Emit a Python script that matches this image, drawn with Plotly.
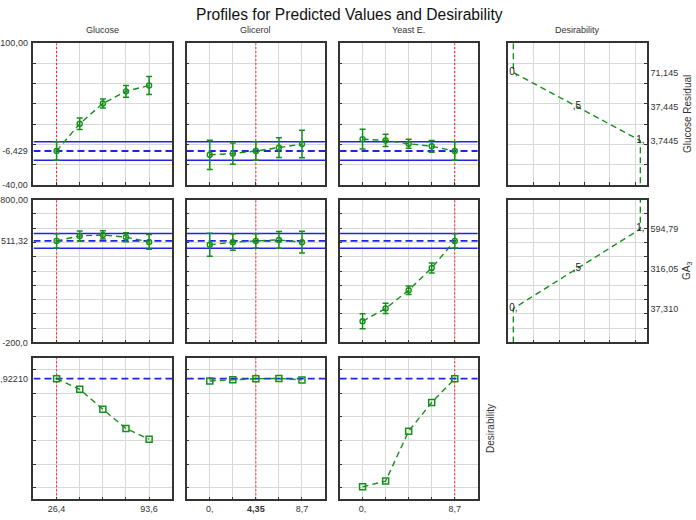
import plotly.graph_objects as go

# ---------------- data ----------------
factors = ["Glucose", "Glicerol", "Yeast E."]
glucose_levels = [26.4, 43.2, 60.0, 76.8, 93.6]
glicerol_levels = [0.0, 2.175, 4.35, 6.525, 8.7]
yeast_levels = [0.0, 2.175, 4.35, 6.525, 8.7]
current_levels = [26.4, 4.35, 8.7]

glucose_tickvals = [26.4, 93.6]
glucose_ticktext = ["26,4", "93,6"]
glicerol_tickvals = [0.0, 4.35, 8.7]
glicerol_ticktext = ["0,", "<b>4,35</b>", "8,7"]
yeast_tickvals = [0.0, 8.7]
yeast_ticktext = ["0,", "8,7"]

# response 1: Glucose Residual
resid_glucose = [-6.429, 20.5, 40.5, 52.5, 58.3]
resid_glucose_err = [9.2, 5.7, 4.5, 5.8, 8.9]
resid_glicerol = [-10.2, -9.0, -6.429, -3.1, 0.4]
resid_glicerol_err = [14.5, 10.5, 9.2, 9.7, 13.6]
resid_yeast = [5.3, 4.0, 0.7, -1.8, -6.429]
resid_yeast_err = [9.7, 6.1, 4.4, 5.8, 9.2]
resid_pred = -6.429
resid_ci = [-15.63, 2.77]
resid_range = [-40, 100]
resid_grid = [-20, 0, 20, 40, 60, 80]
resid_left_vals = [100, -6.429, -40]
resid_left_text = ["100,00", "-6,429", "-40,00"]
resid_des_x = [0, 0, 0.5, 1, 1]
resid_des_y = [100, 71.145, 37.445, 3.7445, -40]
resid_right_vals = [71.145, 37.445, 3.7445]
resid_right_text = ["71,145", "37,445", "3,7445"]

# response 2: GA3
ga3_glucose = [511.32, 546, 553, 537, 504]
ga3_glucose_err = [50, 35, 29, 32, 52]
ga3_glicerol = [484, 502, 511.32, 518, 502]
ga3_glicerol_err = [81, 57, 50, 59, 76]
ga3_yeast = [-52, 38, 165, 322, 511.32]
ga3_yeast_err = [53, 36, 30, 35, 50]
ga3_pred = 511.32
ga3_ci = [460.3, 562.3]
ga3_range = [-200, 800]
ga3_grid = [-100, 0, 100, 200, 300, 400, 500, 600, 700]
ga3_left_vals = [800, 511.32, -200]
ga3_left_text = ["800,00", "511,32", "-200,0"]
ga3_des_x = [0, 0, 0.5, 1, 1]
ga3_des_y = [-200, 37.31, 316.05, 594.79, 800]
ga3_right_vals = [594.79, 316.05, 37.31]
ga3_right_text = ["594,79", "316,05", "37,310"]

# overall desirability
des_glucose = [0.9221, 0.832, 0.664, 0.501, 0.411]
des_glicerol = [0.903, 0.914, 0.9221, 0.924, 0.912]
des_yeast = [0.009, 0.058, 0.479, 0.722, 0.9221]
des_pred = 0.9221
des_range = [-0.096, 1.096]
des_grid = [0, 0.2, 0.4, 0.6, 0.8, 1.0]
des_left_vals = [0.9221]
des_left_text = [",92210"]

des_marks = ["0,", ",5", "1,"]
dcol_range = [-0.04, 1.053]
dcol_grid = [0.16, 0.36, 0.56, 0.76, 0.96]

# ---------------- layout geometry ----------------
W, H = 696, 520
col_px = [(32.5, 171.5), (186, 324.5), (339, 477.5), (508, 647)]
row_px = [(39, 183.5), (198.5, 344), (360, 504)]

GREEN = "#14901a"
BLUE = "#2323e6"
RED = "#ff2020"
FRAME = "#333333"
GRID = "#d8d8d8"
FONT = "Liberation Sans, Arial, sans-serif"

levels = [glucose_levels, glicerol_levels, yeast_levels]
xtickvals = [glucose_tickvals, glicerol_tickvals, yeast_tickvals]
xticktexts = [glucose_ticktext, glicerol_ticktext, yeast_ticktext]
rows_data = [
    dict(vals=[resid_glucose, resid_glicerol, resid_yeast],
         err=[resid_glucose_err, resid_glicerol_err, resid_yeast_err],
         pred=resid_pred, ci=resid_ci, rng=resid_range, grid=resid_grid,
         lv=resid_left_vals, lt=resid_left_text,
         dx=resid_des_x, dy=resid_des_y, rv=resid_right_vals, rt=resid_right_text),
    dict(vals=[ga3_glucose, ga3_glicerol, ga3_yeast],
         err=[ga3_glucose_err, ga3_glicerol_err, ga3_yeast_err],
         pred=ga3_pred, ci=ga3_ci, rng=ga3_range, grid=ga3_grid,
         lv=ga3_left_vals, lt=ga3_left_text,
         dx=ga3_des_x, dy=ga3_des_y, rv=ga3_right_vals, rt=ga3_right_text),
    dict(vals=[des_glucose, des_glicerol, des_yeast], err=None,
         pred=des_pred, ci=None, rng=des_range, grid=des_grid,
         lv=des_left_vals, lt=des_left_text),
]

fig = go.Figure()
layout = {}


def names(idx):
    s = "" if idx == 1 else str(idx)
    return "xaxis" + s, "yaxis" + s, "x" + s, "y" + s


def base_axis():
    return dict(showline=True, mirror=True, linecolor=FRAME, linewidth=1.5,
                zeroline=False, fixedrange=True,
                tickfont=dict(family=FONT, size=9, color="#333333"))


def grid_minor(vals):
    return dict(tickmode="array", tickvals=vals, showgrid=True, gridcolor=GRID,
                gridwidth=1, ticks="inside", ticklen=3, tickcolor=FRAME)


for r in range(3):
    rd = rows_data[r]
    y0p, y1p = row_px[r]
    ydom = [1 - y1p / H, 1 - y0p / H]
    for c in range(4):
        if r == 2 and c == 3:
            continue
        idx = r * 4 + c + 1
        xa, ya, xr, yr = names(idx)
        x0p, x1p = col_px[c]
        xdom = [x0p / W, x1p / W]

        # x axis
        xax = base_axis()
        if c < 3:
            lv = levels[c]
            step = lv[1] - lv[0]
            xrng = [lv[0] - step, lv[-1] + step]
            if r == 2:
                xax.update(tickmode="array", tickvals=xtickvals[c], ticktext=xticktexts[c],
                           showgrid=True, gridcolor=GRID, gridwidth=1,
                           ticks="inside", ticklen=3, tickcolor=FRAME)
            else:
                xax.update(tickmode="array", tickvals=[], showticklabels=False,
                           showgrid=False, ticks="")
            xax.update(range=xrng, minor=grid_minor(lv))
        else:
            xrng = dcol_range
            xax.update(range=xrng, tickmode="array", tickvals=[], showticklabels=False,
                       showgrid=False, ticks="", minor=grid_minor(dcol_grid))
        xax.update(domain=xdom, anchor=yr)
        layout[xa] = xax

        # y axis
        yax = base_axis()
        yax.update(range=rd["rng"], domain=ydom, anchor=xr, minor=grid_minor(rd["grid"]))
        if c == 0:
            yax.update(tickmode="array", tickvals=rd["lv"], ticktext=rd["lt"],
                       showgrid=False, ticks="", ticklabelstandoff=2)
        elif c == 3:
            yax.update(side="right", tickmode="array", tickvals=rd["rv"],
                       ticktext=rd["rt"], showgrid=False, ticks="")
        else:
            yax.update(tickmode="array", tickvals=[], showticklabels=False,
                       showgrid=False, ticks="")
        layout[ya] = yax

        if c < 3:
            # red dotted current level
            cur = current_levels[c]
            fig.add_trace(go.Scatter(x=[cur, cur], y=rd["rng"], mode="lines",
                                     line=dict(color=RED, width=1, dash="2px,2px"),
                                     xaxis=xr, yaxis=yr, hoverinfo="skip"))
            # blue reference lines
            if rd["ci"] is not None:
                for v in rd["ci"]:
                    fig.add_trace(go.Scatter(x=xrng, y=[v, v], mode="lines",
                                             line=dict(color=BLUE, width=1.5),
                                             xaxis=xr, yaxis=yr, hoverinfo="skip"))
            fig.add_trace(go.Scatter(x=xrng, y=[rd["pred"], rd["pred"]], mode="lines",
                                     line=dict(color=BLUE, width=1.8, dash="7px,4px"),
                                     xaxis=xr, yaxis=yr, hoverinfo="skip"))
            # profile
            if rd["err"] is not None:
                fig.add_trace(go.Scatter(
                    x=levels[c], y=rd["vals"][c], mode="lines+markers",
                    line=dict(color=GREEN, width=1.4, dash="6px,4px"),
                    marker=dict(symbol="circle-open", size=5, color=GREEN,
                                line=dict(width=1.4, color=GREEN)),
                    error_y=dict(type="data", array=rd["err"][c], visible=True,
                                 color=GREEN, thickness=1.5, width=3),
                    xaxis=xr, yaxis=yr))
            else:
                fig.add_trace(go.Scatter(
                    x=levels[c], y=rd["vals"][c], mode="lines+markers",
                    line=dict(color=GREEN, width=1.4, dash="6px,4px"),
                    marker=dict(symbol="square-open", size=6, color=GREEN,
                                line=dict(width=1.5, color=GREEN)),
                    xaxis=xr, yaxis=yr))
        else:
            fig.add_trace(go.Scatter(x=rd["dx"], y=rd["dy"], mode="lines",
                                     line=dict(color=GREEN, width=1.4, dash="6px,4px"),
                                     xaxis=xr, yaxis=yr, hoverinfo="skip"))
            fig.add_trace(go.Scatter(x=rd["dx"][1:4], y=rd["dy"][1:4], mode="text",
                                     text=des_marks, textposition="middle center",
                                     textfont=dict(family=FONT, size=10, color="#222222"),
                                     xaxis=xr, yaxis=yr, hoverinfo="skip"))

annotations = [
    dict(text="Profiles for Predicted Values and Desirability", x=349 / W, y=1 - 10 / H,
         xref="paper", yref="paper", showarrow=False,
         font=dict(family=FONT, size=15.6, color="#111111"), xanchor="center", yanchor="middle"),
]
col_titles = factors + ["Desirability"]
for c, t in enumerate(col_titles):
    x0p, x1p = col_px[c]
    annotations.append(dict(text=t, x=(x0p + x1p) / 2 / W, y=1 - 25 / H, xref="paper",
                            yref="paper", showarrow=False, xanchor="center", yanchor="middle",
                            font=dict(family=FONT, size=9, color="#333333")))
side_labels = [("Glucose Residual", 687, 0), ("GA<sub>3</sub>", 687, 1), ("Desirability", 490, 2)]
for t, xp, r in side_labels:
    y0p, y1p = row_px[r]
    annotations.append(dict(text=t, x=xp / W, y=1 - (y0p + y1p) / 2 / H, xref="paper",
                            yref="paper", showarrow=False, textangle=-90,
                            xanchor="center", yanchor="middle",
                            font=dict(family=FONT, size=10, color="#333333")))

fig.update_layout(**layout)
fig.update_layout(width=W, height=H, margin=dict(l=0, r=0, t=0, b=0),
                  paper_bgcolor="white", plot_bgcolor="white", showlegend=False,
                  annotations=annotations, font=dict(family=FONT))
fig.write_html("out.html")
